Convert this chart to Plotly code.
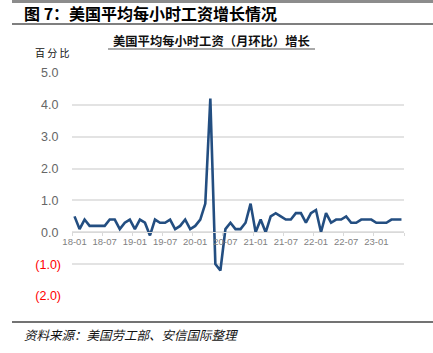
import plotly.graph_objects as go

# Monthly data Jan 2018 - Jun 2023
months = [f"{y:02d}-{m:02d}" for y in range(18, 24) for m in range(1, 13)][:66]
values = [
    0.5, 0.1, 0.4, 0.2, 0.2, 0.2, 0.2, 0.4, 0.4, 0.1, 0.3, 0.4,   # 2018
    0.1, 0.4, 0.3, -0.1, 0.4, 0.3, 0.3, 0.4, 0.1, 0.2, 0.4, 0.1,  # 2019
    0.2, 0.4, 0.9, 4.2, -1.0, -1.2, 0.1, 0.3, 0.1, 0.1, 0.3, 0.9, # 2020
    0.0, 0.4, 0.0, 0.5, 0.6, 0.5, 0.4, 0.4, 0.6, 0.6, 0.3, 0.6,   # 2021
    0.7, 0.0, 0.6, 0.3, 0.4, 0.4, 0.5, 0.3, 0.3, 0.4, 0.4, 0.4,   # 2022
    0.3, 0.3, 0.3, 0.4, 0.4, 0.4,                                 # 2023
]
x_label_idx = list(range(0, 66, 6))
x_labels = [months[i] for i in x_label_idx]
y_ticks = [-2, -1, 0, 1, 2, 3, 4, 5]
y_labels = ['<span style="color:#ff0000">(2.0)</span>',
            '<span style="color:#ff0000">(1.0)</span>',
            "0.0\u2009", "1.0\u2009", "2.0\u2009", "3.0\u2009", "4.0\u2009", "5.0\u2009"]

title = "图\u00a07：美国平均每小时工资增长情况"
chart_title = "美国平均每小时工资（月环比）增长"
unit = "百 分 比"
source = "资料来源：美国劳工部、安信国际整理"

W, H = 433, 353
L, R, T, B = 72, 29, 73, 57
pw, ph = W - L - R, H - T - B

def px(x):
    return (x - L) / pw

def py(y):
    return (H - B - y) / ph

idx = list(range(len(values)))
ymin, ymax = -2, 5

fig = go.Figure()
fig.add_trace(go.Scatter(x=idx, y=values, mode="lines",
                         line=dict(color="#234e81", width=2.6),
                         hoverinfo="skip", showlegend=False))
fig.add_trace(go.Scatter(x=[-0.5], y=[0], xaxis="x2", mode="markers",
                         marker=dict(opacity=0), showlegend=False, hoverinfo="skip"))

zero_pos = (0 - ymin) / (ymax - ymin)
tick_font = dict(family="Liberation Sans, Arial", size=9.5, color="#7f7f7f")

fig.update_layout(
    width=W, height=H,
    margin=dict(l=L, r=R, t=T, b=B),
    paper_bgcolor="white", plot_bgcolor="white",
    font=dict(family="Noto Sans CJK SC"),
    xaxis=dict(range=[-0.5, len(values) - 0.5], tickvals=x_label_idx, ticktext=x_labels,
               ticks="", showgrid=False, zeroline=False, showline=True,
               linecolor="#d9d9d9", linewidth=1, anchor="free", position=zero_pos,
               tickfont=tick_font),
    xaxis2=dict(range=[-0.5, len(values) - 0.5], overlaying="x",
                tickvals=[i - 0.5 for i in range(0, 67, 6)], showticklabels=False,
                ticks="outside", ticklen=3, tickcolor="#d9d9d9", tickwidth=1,
                showgrid=False, zeroline=False, showline=False,
                anchor="free", position=zero_pos),
    yaxis=dict(range=[ymin, ymax], tickvals=y_ticks, ticktext=y_labels,
               showgrid=True, gridcolor="#e3e3e3", gridwidth=1.5, zeroline=False,
               showline=False, ticks="", ticklabelstandoff=10,
               tickfont=dict(family="Liberation Sans, Arial", size=12.5, color="#666666")),
    showlegend=False,
)

shapes = [
    dict(type="rect", xref="paper", yref="paper", x0=px(12), x1=px(433), y0=py(0), y1=py(3),
         fillcolor="#8c8c8c", line=dict(width=0)),
    dict(type="line", xref="paper", yref="paper", x0=px(12), x1=px(433), y0=py(24), y1=py(24),
         line=dict(color="#555555", width=1.5)),
    dict(type="line", xref="paper", yref="paper", x0=px(108), x1=px(315), y0=py(49), y1=py(49),
         line=dict(color="#aaaaaa", width=2)),
    dict(type="line", xref="paper", yref="paper", x0=px(12), x1=px(433), y0=py(322), y1=py(322),
         line=dict(color="#444444", width=1.5)),
]
fig.update_layout(shapes=shapes)

annotations = [
    dict(text=f"<b>{title}</b>", x=px(22), y=py(13), xanchor="left", yanchor="middle",
         font=dict(size=16, color="#000000")),
    dict(text=f"<b>{chart_title}</b>", x=px(211), y=py(41), xanchor="center", yanchor="middle",
         font=dict(size=12.3, color="#111111")),
    dict(text=unit, x=px(33), y=py(53), xanchor="left", yanchor="middle",
         font=dict(size=10, color="#111111")),
    dict(text=f"<i>{source}</i>", x=px(22), y=py(334), xanchor="left", yanchor="middle",
         font=dict(size=12.5, color="#111111")),
]
for a in annotations:
    a.update(xref="paper", yref="paper", showarrow=False)
fig.update_layout(annotations=annotations)

fig.write_html("out.html")
